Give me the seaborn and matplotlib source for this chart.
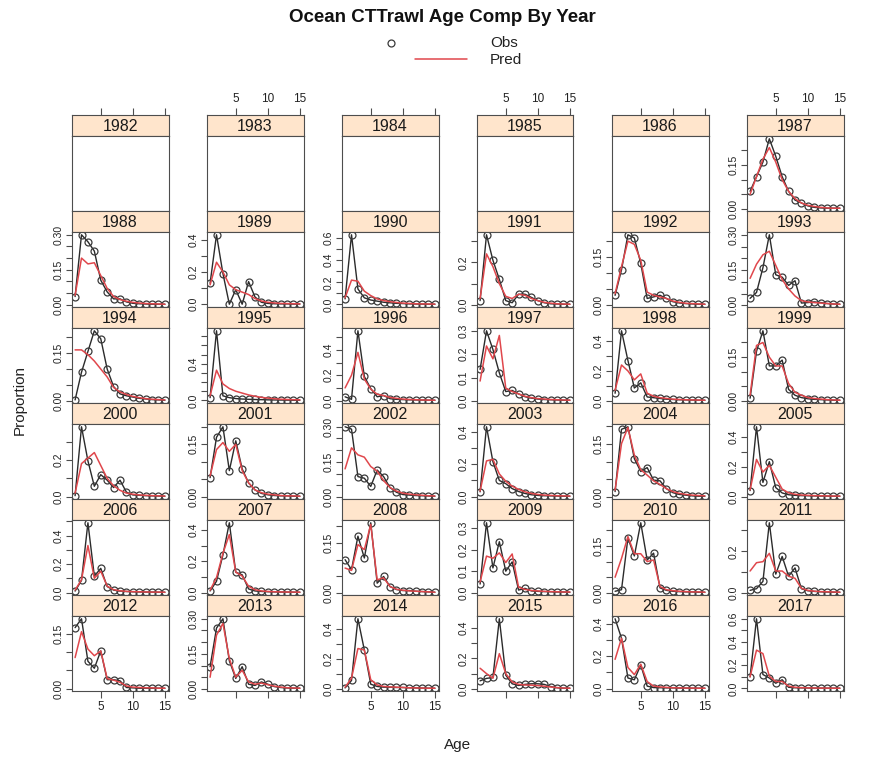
import numpy as np
import pandas as pd
import matplotlib
matplotlib.use("Agg")
import matplotlib.pyplot as plt
import seaborn as sns
from matplotlib.lines import Line2D

sns.set_theme(style="white")
plt.rcParams["font.family"] = ["Liberation Sans", "DejaVu Sans"]

# ---------------- data ----------------
title = "Ocean CTTrawl Age Comp By Year"
ages = list(range(1, 16))
years = list(range(1982, 2018))

obs_1987 = [0.06, 0.11, 0.16, 0.24, 0.18, 0.11, 0.06, 0.03, 0.02, 0.01, 0.005, 0.003, 0.002, 0.002, 0.002]
pred_1987 = [0.05, 0.11, 0.17, 0.21, 0.16, 0.10, 0.06, 0.035, 0.02, 0.012, 0.008, 0.005, 0.003, 0.002, 0.002]
obs_1988 = [0.035, 0.30, 0.27, 0.23, 0.105, 0.055, 0.025, 0.025, 0.012, 0.006, 0.004, 0.003, 0.002, 0.002, 0.002]
pred_1988 = [0.04, 0.20, 0.175, 0.18, 0.125, 0.07, 0.035, 0.022, 0.015, 0.01, 0.007, 0.005, 0.004, 0.003, 0.002]
obs_1989 = [0.13, 0.43, 0.19, 0.0, 0.09, 0.0, 0.14, 0.045, 0.012, 0.005, 0.003, 0.002, 0.002, 0.001, 0.001]
pred_1989 = [0.12, 0.26, 0.20, 0.12, 0.09, 0.075, 0.06, 0.035, 0.02, 0.012, 0.008, 0.005, 0.004, 0.003, 0.002]
obs_1990 = [0.05, 0.63, 0.14, 0.06, 0.04, 0.03, 0.02, 0.015, 0.01, 0.008, 0.005, 0.004, 0.003, 0.002, 0.002]
pred_1990 = [0.06, 0.22, 0.21, 0.12, 0.08, 0.05, 0.035, 0.025, 0.018, 0.012, 0.009, 0.006, 0.005, 0.004, 0.003]
obs_1991 = [0.02, 0.33, 0.21, 0.12, 0.02, 0.01, 0.05, 0.05, 0.035, 0.02, 0.01, 0.005, 0.004, 0.003, 0.003]
pred_1991 = [0.03, 0.24, 0.18, 0.10, 0.04, 0.03, 0.05, 0.045, 0.03, 0.02, 0.012, 0.008, 0.005, 0.004, 0.003]
obs_1992 = [0.03, 0.11, 0.22, 0.21, 0.13, 0.02, 0.025, 0.03, 0.02, 0.01, 0.006, 0.004, 0.003, 0.002, 0.002]
pred_1992 = [0.035, 0.12, 0.20, 0.19, 0.14, 0.04, 0.03, 0.025, 0.02, 0.012, 0.008, 0.005, 0.004, 0.003, 0.002]
obs_1993 = [0.03, 0.055, 0.16, 0.30, 0.13, 0.12, 0.085, 0.105, 0.01, 0.012, 0.015, 0.012, 0.008, 0.006, 0.005]
pred_1993 = [0.115, 0.175, 0.215, 0.23, 0.17, 0.11, 0.07, 0.04, 0.02, 0.015, 0.012, 0.01, 0.008, 0.006, 0.005]
obs_1994 = [0.003, 0.09, 0.155, 0.22, 0.195, 0.10, 0.045, 0.022, 0.016, 0.012, 0.008, 0.006, 0.004, 0.003, 0.002]
pred_1994 = [0.16, 0.16, 0.145, 0.125, 0.10, 0.075, 0.042, 0.028, 0.02, 0.014, 0.01, 0.007, 0.005, 0.004, 0.003]
obs_1995 = [0.03, 0.76, 0.05, 0.03, 0.02, 0.015, 0.012, 0.01, 0.008, 0.006, 0.005, 0.004, 0.003, 0.002, 0.002]
pred_1995 = [0.05, 0.33, 0.18, 0.13, 0.10, 0.08, 0.06, 0.045, 0.033, 0.025, 0.018, 0.013, 0.01, 0.008, 0.006]
obs_1996 = [0.03, 0.01, 0.55, 0.19, 0.095, 0.03, 0.04, 0.015, 0.01, 0.008, 0.006, 0.005, 0.004, 0.003, 0.003]
pred_1996 = [0.10, 0.20, 0.38, 0.17, 0.09, 0.05, 0.04, 0.025, 0.018, 0.012, 0.009, 0.007, 0.005, 0.004, 0.003]
obs_1997 = [0.135, 0.30, 0.22, 0.12, 0.04, 0.045, 0.03, 0.018, 0.012, 0.008, 0.006, 0.005, 0.004, 0.003, 0.003]
pred_1997 = [0.085, 0.235, 0.18, 0.28, 0.055, 0.04, 0.03, 0.02, 0.014, 0.01, 0.008, 0.006, 0.005, 0.004, 0.003]
obs_1998 = [0.05, 0.47, 0.27, 0.085, 0.12, 0.025, 0.02, 0.015, 0.01, 0.008, 0.006, 0.005, 0.004, 0.003, 0.003]
pred_1998 = [0.07, 0.24, 0.20, 0.14, 0.18, 0.05, 0.03, 0.02, 0.015, 0.01, 0.008, 0.006, 0.005, 0.004, 0.003]
obs_1999 = [0.01, 0.17, 0.24, 0.12, 0.12, 0.14, 0.04, 0.02, 0.012, 0.008, 0.006, 0.005, 0.004, 0.003, 0.003]
pred_1999 = [0.02, 0.19, 0.20, 0.15, 0.12, 0.12, 0.06, 0.03, 0.02, 0.012, 0.009, 0.007, 0.005, 0.004, 0.003]
obs_2000 = [0.006, 0.38, 0.195, 0.057, 0.12, 0.09, 0.05, 0.09, 0.025, 0.01, 0.008, 0.006, 0.005, 0.004, 0.003]
pred_2000 = [0.02, 0.18, 0.21, 0.24, 0.17, 0.10, 0.06, 0.035, 0.02, 0.014, 0.01, 0.008, 0.006, 0.005, 0.004]
obs_2001 = [0.055, 0.17, 0.20, 0.075, 0.16, 0.08, 0.04, 0.02, 0.01, 0.006, 0.004, 0.003, 0.003, 0.002, 0.002]
pred_2001 = [0.06, 0.135, 0.155, 0.13, 0.15, 0.075, 0.04, 0.02, 0.012, 0.008, 0.006, 0.004, 0.003, 0.003, 0.002]
obs_2002 = [0.30, 0.29, 0.087, 0.08, 0.045, 0.115, 0.087, 0.04, 0.02, 0.01, 0.008, 0.006, 0.005, 0.004, 0.003]
pred_2002 = [0.12, 0.21, 0.18, 0.17, 0.13, 0.11, 0.07, 0.04, 0.025, 0.016, 0.012, 0.009, 0.007, 0.005, 0.004]
obs_2003 = [0.03, 0.43, 0.215, 0.10, 0.08, 0.05, 0.032, 0.02, 0.012, 0.008, 0.006, 0.005, 0.004, 0.003, 0.003]
pred_2003 = [0.035, 0.22, 0.23, 0.14, 0.095, 0.065, 0.045, 0.03, 0.02, 0.014, 0.01, 0.008, 0.006, 0.005, 0.004]
obs_2004 = [0.016, 0.19, 0.197, 0.108, 0.072, 0.083, 0.048, 0.046, 0.024, 0.013, 0.008, 0.006, 0.004, 0.003, 0.003]
pred_2004 = [0.02, 0.15, 0.195, 0.118, 0.077, 0.062, 0.046, 0.036, 0.024, 0.016, 0.011, 0.008, 0.006, 0.005, 0.004]
obs_2005 = [0.04, 0.47, 0.095, 0.235, 0.06, 0.024, 0.012, 0.008, 0.006, 0.005, 0.004, 0.003, 0.003, 0.002, 0.002]
pred_2005 = [0.045, 0.25, 0.165, 0.21, 0.13, 0.05, 0.025, 0.015, 0.01, 0.008, 0.006, 0.005, 0.004, 0.003, 0.003]
obs_2006 = [0.01, 0.085, 0.49, 0.115, 0.17, 0.042, 0.017, 0.01, 0.007, 0.005, 0.004, 0.003, 0.003, 0.002, 0.002]
pred_2006 = [0.017, 0.09, 0.33, 0.10, 0.15, 0.045, 0.02, 0.012, 0.008, 0.006, 0.005, 0.004, 0.003, 0.003, 0.002]
obs_2007 = [0.01, 0.072, 0.24, 0.445, 0.13, 0.113, 0.023, 0.01, 0.007, 0.005, 0.004, 0.003, 0.003, 0.002, 0.002]
pred_2007 = [0.015, 0.095, 0.25, 0.37, 0.13, 0.105, 0.04, 0.018, 0.01, 0.007, 0.005, 0.004, 0.003, 0.003, 0.002]
obs_2008 = [0.10, 0.07, 0.17, 0.105, 0.21, 0.03, 0.05, 0.02, 0.011, 0.008, 0.008, 0.006, 0.005, 0.004, 0.003]
pred_2008 = [0.075, 0.068, 0.145, 0.13, 0.205, 0.04, 0.046, 0.02, 0.012, 0.009, 0.007, 0.006, 0.005, 0.004, 0.003]
obs_2009 = [0.04, 0.325, 0.115, 0.237, 0.10, 0.143, 0.012, 0.02, 0.008, 0.006, 0.005, 0.004, 0.003, 0.003, 0.002]
pred_2009 = [0.05, 0.17, 0.16, 0.185, 0.14, 0.18, 0.025, 0.015, 0.01, 0.008, 0.006, 0.005, 0.004, 0.003, 0.003]
obs_2010 = [0.005, 0.01, 0.175, 0.118, 0.224, 0.105, 0.127, 0.016, 0.008, 0.005, 0.004, 0.003, 0.003, 0.002, 0.002]
pred_2010 = [0.05, 0.11, 0.18, 0.125, 0.125, 0.10, 0.105, 0.02, 0.01, 0.007, 0.005, 0.004, 0.003, 0.003, 0.002]
obs_2011 = [0.012, 0.02, 0.055, 0.337, 0.09, 0.175, 0.08, 0.12, 0.02, 0.01, 0.007, 0.005, 0.004, 0.003, 0.003]
pred_2011 = [0.105, 0.145, 0.15, 0.19, 0.105, 0.105, 0.08, 0.07, 0.022, 0.012, 0.008, 0.006, 0.005, 0.004, 0.003]
obs_2012 = [0.166, 0.19, 0.075, 0.056, 0.103, 0.025, 0.025, 0.022, 0.004, 0.003, 0.002, 0.002, 0.002, 0.002, 0.002]
pred_2012 = [0.085, 0.155, 0.108, 0.09, 0.103, 0.028, 0.024, 0.018, 0.008, 0.005, 0.004, 0.003, 0.003, 0.002, 0.002]
obs_2013 = [0.095, 0.26, 0.30, 0.12, 0.045, 0.095, 0.02, 0.015, 0.03, 0.02, 0.01, 0.006, 0.004, 0.003, 0.003]
pred_2013 = [0.05, 0.23, 0.28, 0.13, 0.05, 0.08, 0.03, 0.02, 0.025, 0.018, 0.012, 0.008, 0.005, 0.004, 0.003]
obs_2014 = [0.005, 0.055, 0.47, 0.26, 0.03, 0.015, 0.01, 0.01, 0.008, 0.008, 0.006, 0.005, 0.004, 0.003, 0.003]
pred_2014 = [0.01, 0.07, 0.27, 0.26, 0.06, 0.025, 0.015, 0.012, 0.01, 0.008, 0.006, 0.005, 0.004, 0.003, 0.003]
obs_2015 = [0.053, 0.069, 0.075, 0.457, 0.09, 0.034, 0.023, 0.03, 0.034, 0.034, 0.03, 0.016, 0.008, 0.005, 0.005]
pred_2015 = [0.135, 0.10, 0.07, 0.23, 0.10, 0.046, 0.03, 0.026, 0.025, 0.022, 0.018, 0.013, 0.009, 0.006, 0.005]
obs_2016 = [0.43, 0.31, 0.065, 0.054, 0.145, 0.015, 0.006, 0.005, 0.004, 0.004, 0.003, 0.003, 0.002, 0.002, 0.002]
pred_2016 = [0.18, 0.31, 0.13, 0.086, 0.15, 0.043, 0.015, 0.01, 0.007, 0.005, 0.004, 0.003, 0.003, 0.002, 0.002]
obs_2017 = [0.10, 0.60, 0.12, 0.09, 0.045, 0.075, 0.01, 0.006, 0.005, 0.004, 0.003, 0.003, 0.002, 0.002, 0.002]
pred_2017 = [0.10, 0.33, 0.30, 0.105, 0.06, 0.06, 0.02, 0.01, 0.007, 0.005, 0.004, 0.003, 0.003, 0.002, 0.002]

OBS = {1987: obs_1987, 1988: obs_1988, 1989: obs_1989, 1990: obs_1990, 1991: obs_1991,
       1992: obs_1992, 1993: obs_1993, 1994: obs_1994, 1995: obs_1995, 1996: obs_1996,
       1997: obs_1997, 1998: obs_1998, 1999: obs_1999, 2000: obs_2000, 2001: obs_2001,
       2002: obs_2002, 2003: obs_2003, 2004: obs_2004, 2005: obs_2005, 2006: obs_2006,
       2007: obs_2007, 2008: obs_2008, 2009: obs_2009, 2010: obs_2010, 2011: obs_2011,
       2012: obs_2012, 2013: obs_2013, 2014: obs_2014, 2015: obs_2015, 2016: obs_2016,
       2017: obs_2017}
PRED = {1987: pred_1987, 1988: pred_1988, 1989: pred_1989, 1990: pred_1990, 1991: pred_1991,
        1992: pred_1992, 1993: pred_1993, 1994: pred_1994, 1995: pred_1995, 1996: pred_1996,
        1997: pred_1997, 1998: pred_1998, 1999: pred_1999, 2000: pred_2000, 2001: pred_2001,
        2002: pred_2002, 2003: pred_2003, 2004: pred_2004, 2005: pred_2005, 2006: pred_2006,
        2007: pred_2007, 2008: pred_2008, 2009: pred_2009, 2010: pred_2010, 2011: pred_2011,
        2012: pred_2012, 2013: pred_2013, 2014: pred_2014, 2015: pred_2015, 2016: pred_2016,
        2017: pred_2017}

rows = []
for yr in OBS:
    for a, o, p in zip(ages, OBS[yr], PRED[yr]):
        rows.append((yr, a, o, p))
df = pd.DataFrame(rows, columns=["Year", "Age", "Obs", "Pred"])

# ---------------- style ----------------
# (tick step, label step) for each panel's own y axis
TICKS = {1987: (0.05, 0.15), 1988: (0.05, 0.15), 1989: (0.1, 0.2), 1990: (0.1, 0.2),
         1991: (0.1, 0.2), 1992: (0.05, 0.15), 1993: (0.05, 0.15), 1994: (0.05, 0.15),
         1995: (0.1, 0.4), 1996: (0.1, 0.2), 1997: (0.1, 0.1), 1998: (0.1, 0.2),
         1999: (0.05, 0.15), 2000: (0.1, 0.2), 2001: (0.05, 0.15), 2002: (0.05, 0.15),
         2003: (0.1, 0.2), 2004: (0.05, 0.15), 2005: (0.1, 0.2), 2006: (0.1, 0.2),
         2007: (0.1, 0.2), 2008: (0.05, 0.15), 2009: (0.1, 0.1), 2010: (0.05, 0.15),
         2011: (0.1, 0.2), 2012: (0.05, 0.15), 2013: (0.05, 0.15), 2014: (0.1, 0.2),
         2015: (0.1, 0.2), 2016: (0.1, 0.2), 2017: (0.1, 0.2)}

W, H = 884, 759
EDGE = "#4d4d4d"
STRIP = "#FFE5CC"
OBS_COL = "#2b2b2b"
PRED_COL = "#e0474c"
XLIM = (0.44, 15.56)

fig = plt.figure(figsize=(W / 100, H / 100), dpi=100)
fig.patch.set_facecolor("white")


def box(l, t, w, h):
    return [l / W, 1 - (t + h) / H, w / W, h / H]


def style_spines(a):
    for s in a.spines.values():
        s.set_visible(True)
        s.set_color(EDGE)
        s.set_linewidth(0.8)


for i, yr in enumerate(years):
    r, c = divmod(i, 6)
    left = 71.5 + 135 * c
    top = 115 + 96 * r
    sax = fig.add_axes(box(left, top, 97, 21))
    ax = fig.add_axes(box(left, top + 21, 97, 75))

    # strip
    sax.set_facecolor(STRIP)
    style_spines(sax)
    sax.set_xlim(*XLIM)
    sax.set_ylim(0, 1)
    sax.set_yticks([])
    sax.text(0.5, 0.45, str(yr), ha="center", va="center", fontsize=11.5,
             color="#1a1a1a", transform=sax.transAxes)
    if r == 0:
        sax.xaxis.tick_top()
        sax.set_xticks([5, 10, 15])
        sax.set_xticklabels(["5", "10", "15"] if c % 2 == 1 else ["", "", ""])
        sax.tick_params(axis="x", direction="out", length=5, width=0.8, color=EDGE,
                        labelsize=8.5, pad=2, labelcolor="#222222")
    else:
        sax.set_xticks([])

    # panel
    ax.set_facecolor("white")
    style_spines(ax)
    ax.set_xlim(*XLIM)
    if yr in OBS:
        d = df[df["Year"] == yr]
        sns.lineplot(data=d, x="Age", y="Obs", ax=ax, color=OBS_COL, lw=1.0,
                     marker="o", markersize=5, markerfacecolor="none",
                     markeredgecolor="#3a3a3a", markeredgewidth=0.9,
                     estimator=None, legend=False)
        sns.lineplot(data=d, x="Age", y="Pred", ax=ax, color=PRED_COL, lw=1.1,
                     estimator=None, legend=False)
        vals = np.concatenate([d["Obs"].values, d["Pred"].values])
        lo, hi = vals.min(), vals.max()
        pad = 0.04 * (hi - lo)
        ax.set_ylim(lo - pad, hi + pad)
        step, lab = TICKS[yr]
        dec = 2 if step < 0.1 else 1
        n = int(np.floor((hi + pad) / step + 1e-9))
        tv = [k * step for k in range(n + 1) if k * step >= lo - pad - 1e-9]
        tl = []
        for v in tv:
            q = v / lab
            tl.append(f"{v:.{dec}f}" if abs(q - round(q)) < 1e-6 else "")
        ax.set_yticks(tv)
        ax.set_yticklabels(tl, rotation=90, va="center")
        ax.tick_params(axis="y", direction="out", length=4, width=0.8, color=EDGE,
                       labelsize=7.5, pad=2, labelcolor="#222222", left=True)
    else:
        ax.set_ylim(0, 1)
        ax.set_yticks([])
    ax.set_xlabel("")
    ax.set_ylabel("")
    if r == 5:
        ax.set_xticks([5, 10, 15])
        ax.set_xticklabels(["5", "10", "15"] if c % 2 == 0 else ["", "", ""])
        ax.tick_params(axis="x", direction="out", length=5, width=0.8, color=EDGE,
                       labelsize=8.5, pad=2, labelcolor="#222222", bottom=True)
    else:
        ax.set_xticks([])

# titles, legend, axis labels
fig.text(442 / W, 1 - 18 / H, title, ha="center", va="center", fontsize=13.5,
         fontweight="bold", color="#111111")
fig.add_artist(Line2D([391 / W], [1 - 43 / H], marker="o", markersize=5,
                      markerfacecolor="none", markeredgecolor="#3a3a3a",
                      markeredgewidth=0.9, linestyle="none", transform=fig.transFigure))
fig.add_artist(Line2D([415 / W, 467 / W], [1 - 59 / H, 1 - 59 / H], color=PRED_COL,
                      lw=1.1, transform=fig.transFigure))
fig.text(490 / W, 1 - 43 / H, "Obs", ha="left", va="center", fontsize=11, color="#222222")
fig.text(490 / W, 1 - 60 / H, "Pred", ha="left", va="center", fontsize=11, color="#222222")
fig.text(20 / W, 1 - 400 / H, "Proportion", rotation=90, ha="center", va="center",
         fontsize=11, color="#222222")
fig.text(458 / W, 1 - 745 / H, "Age", ha="center", va="center", fontsize=11,
         color="#222222")

fig.savefig("out.png", dpi=100, facecolor="white")
